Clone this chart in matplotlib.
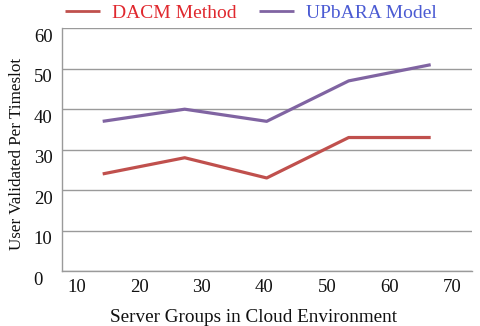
import matplotlib
matplotlib.use("Agg")
import matplotlib.pyplot as plt
from matplotlib.transforms import ScaledTranslation

# Data
categories = [1, 2, 3, 4, 5]
dacm = [24, 28, 23, 33, 33]
upbara = [37, 40, 37, 47, 51]
x_tick_labels = [10, 20, 30, 40, 50, 60, 70]
y_ticks = [0, 10, 20, 30, 40, 50, 60]
series_names = ["DACM Method", "UPbARA Model"]

plt.rcParams['font.family'] = ['Liberation Serif', 'DejaVu Serif']

fig = plt.figure(figsize=(4.8, 3.26), dpi=100)
ax = fig.add_axes([0.1285, 0.1687, 0.8542, 0.7445])

red = "#C0504D"
purple = "#8064A2"
l1, = ax.plot(categories, dacm, color=red, lw=2.3, solid_capstyle='butt')
l2, = ax.plot(categories, upbara, color=purple, lw=2.3, solid_capstyle='butt')

ax.set_xlim(0.5, 5.5)
ax.set_ylim(0, 60)
ax.set_yticks(y_ticks)
ax.set_xticks([])
ax.grid(axis='y', color='#9a9a9a', lw=1.0)
ax.set_axisbelow(True)
for s in ['right', 'top']:
    ax.spines[s].set_visible(False)
for s in ['left', 'bottom']:
    ax.spines[s].set_color('#9a9a9a')
    ax.spines[s].set_linewidth(1.0)
ax.tick_params(axis='y', length=0, pad=6.5, labelsize=13.5, labelcolor='#111111')
off = ScaledTranslation(0, -7 / 100, fig.dpi_scale_trans)
off0 = ScaledTranslation(-10 / 100, -7 / 100, fig.dpi_scale_trans)
for i, lab in enumerate(ax.get_yticklabels()):
    lab.set_transform(lab.get_transform() + (off0 if i == 0 else off))

# secondary x scale for the labels 10..70
ax2 = ax.twiny()
ax2.set_xlim(7.57, 73.14)
ax2.xaxis.set_ticks_position('bottom')
ax2.xaxis.set_label_position('bottom')
ax2.set_xticks(x_tick_labels)
ax2.tick_params(axis='x', length=0, pad=6.0, labelsize=13.5, labelcolor='#111111')
for s in ax2.spines.values():
    s.set_visible(False)

fig.text(0.529, 0.025, "Server Groups in Cloud Environment", ha='center', va='center',
         fontsize=13.8, color='#111111')
fig.text(0.036, 0.527, "User Validated Per Timeslot", rotation=90, ha='center', va='center',
         fontsize=12.3, color='#111111')

leg = fig.legend([l1, l2], series_names, loc='upper left', bbox_to_anchor=(0.1320, 0.993),
                 ncol=2, frameon=False, fontsize=14, handlelength=1.8, handletextpad=0.6,
                 columnspacing=1.15, borderpad=0.1, borderaxespad=0)
for t, c in zip(leg.get_texts(), ["#E0282E", "#4B5BD3"]):
    t.set_color(c)
for h in leg.legend_handles:
    h.set_linewidth(2.0)

fig.savefig("out.png", dpi=100)
